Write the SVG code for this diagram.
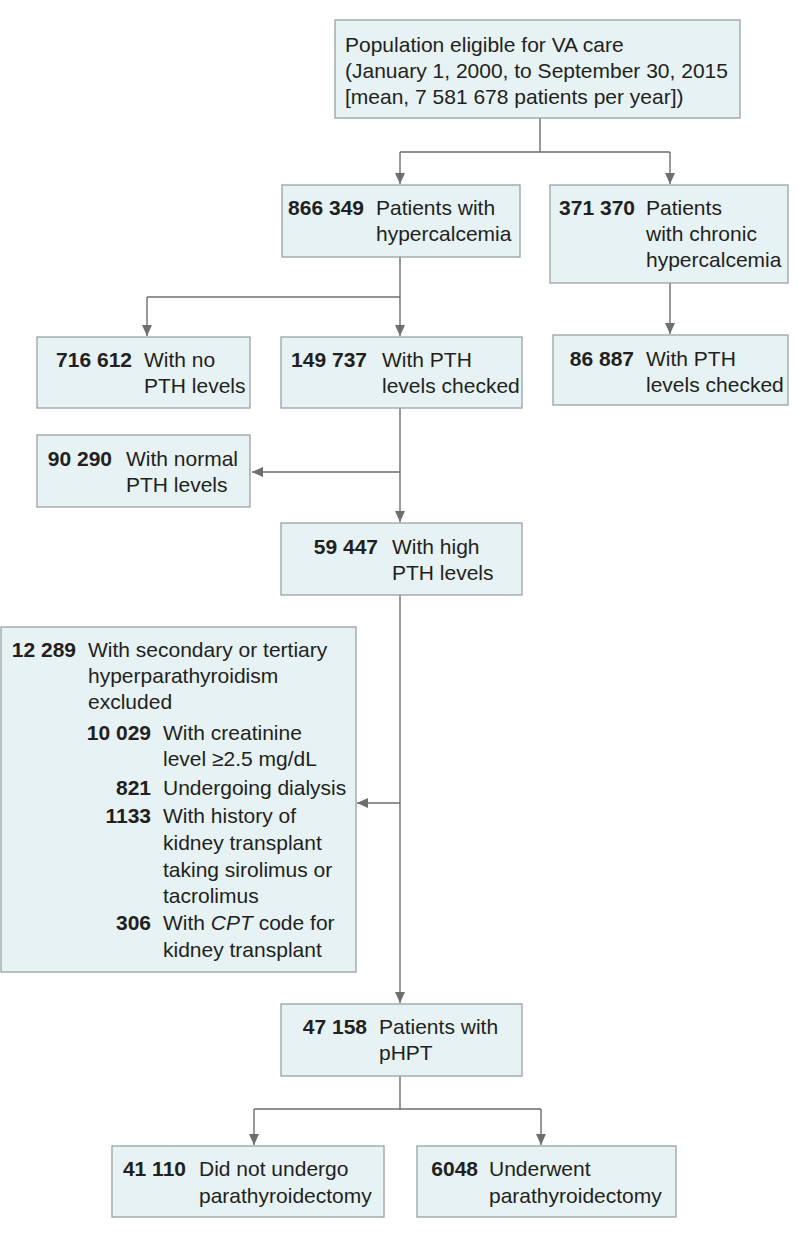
<svg xmlns="http://www.w3.org/2000/svg" width="798" height="1239" viewBox="0 0 798 1239">
<style>
.box{fill:#e6f2f3;stroke:#98a2a4;stroke-width:1.3}
text{font-family:"Liberation Sans",Arial,sans-serif;font-size:21px;fill:#231f20}
.n{font-weight:bold;text-anchor:end}
.c{fill:none;stroke:#6e6e6e;stroke-width:1.4}
.a{marker-end:url(#ah)}
</style>
<defs>
<marker id="ah" markerUnits="userSpaceOnUse" markerWidth="11" markerHeight="10" refX="11" refY="5" orient="auto">
<path d="M0,0 L11,5 L0,10 z" fill="#6e6e6e"/>
</marker>
</defs>
<rect width="798" height="1239" fill="#fff"/>
<g id="connectors">
<path class="c" d="M540,118 V152 M400,152 H670"/>
<path class="c a" d="M400,152 V184"/>
<path class="c a" d="M670,152 V184"/>
<path class="c a" d="M400,257 V336"/>
<path class="c" d="M147,297 H400"/>
<path class="c a" d="M147,297 V336"/>
<path class="c a" d="M670,283 V334"/>
<path class="c a" d="M400,408 V522"/>
<path class="c a" d="M400,472 H252"/>
<path class="c a" d="M400,595 V1003"/>
<path class="c a" d="M400,803 H357"/>
<path class="c" d="M400,1076 V1109 M254,1109 H541"/>
<path class="c a" d="M254,1109 V1145"/>
<path class="c a" d="M541,1109 V1145"/>
</g>
<g id="n-population">
<rect class="box" x="335" y="20" width="405" height="98"/>
<text x="345" y="52">Population eligible for VA care</text>
<text x="345" y="78">(January 1, 2000, to September 30, 2015</text>
<text x="345" y="104">[mean, 7 581 678 patients per year])</text>
</g>
<g id="n-hypercalcemia">
<rect class="box" x="282" y="185" width="238" height="72"/>
<text class="n" x="364" y="215">866 349</text>
<text x="376" y="215">Patients with</text>
<text x="376" y="241">hypercalcemia</text>
</g>
<g id="n-chronic">
<rect class="box" x="550" y="185" width="238" height="98"/>
<text class="n" x="635" y="215">371 370</text>
<text x="646" y="215">Patients</text>
<text x="646" y="241">with chronic</text>
<text x="646" y="267">hypercalcemia</text>
</g>
<g id="n-nopth">
<rect class="box" x="37" y="337" width="213" height="71"/>
<text class="n" x="132" y="367">716 612</text>
<text x="144" y="367">With no</text>
<text x="144" y="393">PTH levels</text>
</g>
<g id="n-pthchecked">
<rect class="box" x="281" y="337" width="241" height="71"/>
<text class="n" x="367" y="367">149 737</text>
<text x="382" y="367">With PTH</text>
<text x="382" y="393">levels checked</text>
</g>
<g id="n-chronicpth">
<rect class="box" x="553" y="335" width="235" height="70"/>
<text class="n" x="634" y="366">86 887</text>
<text x="646" y="366">With PTH</text>
<text x="646" y="392">levels checked</text>
</g>
<g id="n-normalpth">
<rect class="box" x="37" y="435" width="213" height="72"/>
<text class="n" x="112" y="466">90 290</text>
<text x="126" y="466">With normal</text>
<text x="126" y="492">PTH levels</text>
</g>
<g id="n-highpth">
<rect class="box" x="281" y="523" width="241" height="72"/>
<text class="n" x="378" y="554">59 447</text>
<text x="392" y="554">With high</text>
<text x="392" y="580">PTH levels</text>
</g>
<g id="n-excluded">
<rect class="box" x="1" y="627" width="355" height="345"/>
<text class="n" x="76" y="657">12 289</text>
<text x="88" y="657">With secondary or tertiary</text>
<text x="88" y="683">hyperparathyroidism</text>
<text x="88" y="709">excluded</text>
<text class="n" x="151" y="740">10 029</text>
<text x="163" y="740">With creatinine</text>
<text x="163" y="766">level ≥2.5 mg/dL</text>
<text class="n" x="151" y="795">821</text>
<text x="163" y="795">Undergoing dialysis</text>
<text class="n" x="151" y="823">1133</text>
<text x="163" y="823">With history of</text>
<text x="163" y="850">kidney transplant</text>
<text x="163" y="877">taking sirolimus or</text>
<text x="163" y="903">tacrolimus</text>
<text class="n" x="151" y="930">306</text>
<text x="163" y="930">With <tspan font-style="italic">CPT</tspan> code for</text>
<text x="163" y="957">kidney transplant</text>
</g>
<g id="n-phpt">
<rect class="box" x="281" y="1004" width="241" height="72"/>
<text class="n" x="367" y="1034">47 158</text>
<text x="379" y="1034">Patients with</text>
<text x="379" y="1060">pHPT</text>
</g>
<g id="n-noptx">
<rect class="box" x="112" y="1146" width="272" height="71"/>
<text class="n" x="186" y="1176">41 110</text>
<text x="199" y="1176">Did not undergo</text>
<text x="199" y="1203">parathyroidectomy</text>
</g>
<g id="n-ptx">
<rect class="box" x="417" y="1146" width="259" height="71"/>
<text class="n" x="478" y="1176">6048</text>
<text x="489" y="1176">Underwent</text>
<text x="489" y="1203">parathyroidectomy</text>
</g>
</svg>
